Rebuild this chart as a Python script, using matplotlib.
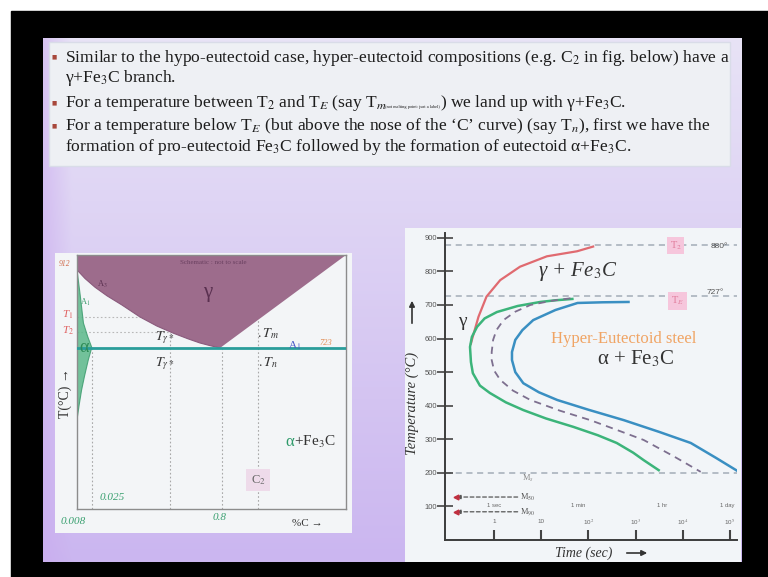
import numpy as np
import matplotlib
matplotlib.use("Agg")
import matplotlib.pyplot as plt
from matplotlib.patches import Rectangle
from matplotlib.colors import to_rgb
from matplotlib.ticker import NullLocator

W, H = 768, 577
plt.rcParams["font.family"] = ["Liberation Serif", "DejaVu Sans"]
plt.rcParams["mathtext.fontset"] = "stix"

# ---------------- bullet text ----------------
line1 = "Similar to the hypo-eutectoid case, hyper-eutectoid compositions (e.g. C$_2$ in fig. below) have a"
line2 = "γ+Fe$_3$C branch."
line3_a = "For a temperature between T$_2$ and T$_E$ (say T$_m$ "
line3_note = "(not melting point: just a label)"
line3_b = ") we land up with γ+Fe$_3$C."
line4 = "For a temperature below T$_E$ (but above the nose of the ‘C’ curve) (say T$_n$), first we have the"
line5 = "formation of pro-eutectoid Fe$_3$C followed by the formation of eutectoid α+Fe$_3$C."

# ---------------- Fe-Fe3C schematic (composition in schematic units 0-100) ----------------
a3_comp = [0, 3.0, 6.7, 11.2, 16.7, 23.4, 29.7, 35.7, 41.3, 45.7, 49.8, 53.2]
a3_temp = [912, 891, 870, 849, 827, 798, 776, 759, 745, 735, 728, 723]
acm_comp = [53.2, 100]
acm_temp = [723, 948]
ferrite_comp = [0, 1.2, 2.4, 4.0, 5.5, 4.2, 2.8, 1.7, 0.8, 0]
ferrite_temp = [912, 850, 783, 750, 724, 694, 655, 621, 585, 549]
eutectoid_temp = 723
guide_comp = [5.6, 34.6, 53.9, 67.3]
guide_top = [723, 760, 723, 791]
level_temp = [798, 762]
level_end = [23.4, 35.0]

# ---------------- TTT diagram ----------------
time_ticks = [1, 10, 1e2, 1e3, 1e4, 1e5]
time_tick_labels = ["1", "10", "10$^2$", "10$^3$", "10$^4$", "10$^5$"]
temp_ticks = [100, 200, 300, 400, 500, 600, 700, 800, 900]
time_units = [1, 60, 3600, 86400]
time_unit_labels = ["1 sec", "1 min", "1 hr", "1 day"]
T2_temp = 880
TE_temp = 727
Ms_temp = 200
M50_temp = 128
M90_temp = 84

pro_logt = [-0.49, -0.47, -0.33, -0.16, 0.13, 0.55, 1.12, 1.76, 2.1]
pro_temp = [585, 596, 665, 725, 774, 814, 845, 860, 874]
start_logt = [1.66, 1.3, 0.98, 0.5, 0.06, -0.2, -0.36, -0.47, -0.51, -0.49, -0.45,
              -0.3, -0.09, 0.25, 0.62, 1.1, 1.68, 2.2, 2.6, 2.95, 3.17, 3.49]
start_temp = [718, 714, 709, 697, 679, 660, 635, 605, 575, 530, 497,
              460, 438, 410, 387, 362, 337, 312, 289, 260, 238, 208]
half_logt = [1.62, 1.2, 0.77, 0.45, 0.2, 0.05, -0.02, -0.05, -0.05, 0.0, 0.13,
             0.4, 0.77, 1.4, 2.04, 2.6, 3.17, 3.8, 4.38]
half_temp = [720, 712, 700, 680, 655, 625, 596, 560, 536, 505, 477,
             445, 417, 385, 357, 328, 298, 250, 203]
finish_logt = [2.85, 2.3, 1.77, 1.3, 0.83, 0.6, 0.45, 0.38, 0.38, 0.45, 0.62,
               0.95, 1.34, 2.0, 2.75, 3.5, 4.17, 4.7, 5.19]
finish_temp = [709, 708, 706, 685, 655, 625, 596, 560, 536, 500, 467,
               440, 417, 388, 357, 322, 289, 245, 203]


def px_rect(x0, y0, x1, y1):
    return [x0 / W, 1 - y1 / H, (x1 - x0) / W, (y1 - y0) / H]


def pixel_axes(z):
    a = fig.add_axes([0, 0, 1, 1], zorder=z)
    a.set_xlim(0, W)
    a.set_ylim(H, 0)
    a.axis("off")
    a.patch.set_alpha(0)
    return a


fig = plt.figure(figsize=(W / 100, H / 100), dpi=100)
fig.patch.set_facecolor("white")

# ---------------- slide background ----------------
bg = pixel_axes(0)
bg.add_patch(Rectangle((11, 11), W - 11, H - 11, color="black", zorder=0))
h_s, w_s = 256, 256
v = np.linspace(0, 1, h_s)[:, None, None]
u = np.linspace(0, 1, w_s)[None, :, None]
top_c = np.array(to_rgb("#e8e3f6"))
bot_c = np.array(to_rgb("#cbb6f0"))
img = top_c * (1 - v) + bot_c * v
img = img * np.ones((1, w_s, 1))
edge = np.clip(1 - u / 0.04, 0, 1) * 0.5
img = img * (1 - edge) + np.array(to_rgb("#c9a8ee")) * edge
bg.imshow(img, extent=(43, 742, 562, 38), aspect="auto", zorder=1, interpolation="bilinear")
bg.set_xlim(0, W)
bg.set_ylim(H, 0)
bg.add_patch(Rectangle((49, 42), 681, 124, facecolor="#eef0f4", edgecolor="#d9dce8", lw=1, zorder=2))
bg.add_patch(Rectangle((55, 253), 297, 280, facecolor="#f3f5f7", edgecolor="none", zorder=2))
bg.add_patch(Rectangle((405, 228), 336, 334, facecolor="#f2f5f8", edgecolor="none", zorder=2))

# ---------------- Fe-Fe3C schematic ----------------
ax1 = fig.add_axes(px_rect(77, 255, 346, 509), zorder=1)
ax1.patch.set_alpha(0)
ax1.set_xlim(0, 100)
ax1.set_ylim(333, 948)
ax1.set_xticks([])
ax1.set_yticks([])
for s in ax1.spines.values():
    s.set_color("#8c8c8c")
    s.set_linewidth(1.0)
gamma_x = [0] + a3_comp + [acm_comp[1]]
gamma_y = [948] + a3_temp + [acm_temp[1]]
ax1.fill(gamma_x, gamma_y, color="#9d6c8c", lw=0, zorder=1)
ax1.plot(a3_comp, a3_temp, color="#8a5a7c", lw=0.8, zorder=2)
ax1.fill(ferrite_comp, ferrite_temp, color="#5bb88a", alpha=0.85, lw=0.8, ec="#3d9c6e", zorder=2)
for c, top in zip(guide_comp, guide_top):
    ax1.plot([c, c], [333, top], color="#a8a8a8", lw=0.8, ls=(0, (1.5, 2)), zorder=1)
for t, e in zip(level_temp, level_end):
    ax1.plot([0, e], [t, t], color="#b8b8b8", lw=0.8, ls=(0, (1.5, 2)), zorder=1)
ax1.axhline(eutectoid_temp, color="#2a9d9a", lw=2.0, zorder=3)

# ---------------- TTT diagram ----------------
ax2 = fig.add_axes(px_rect(445, 232.8, 737, 540), zorder=1)
ax2.patch.set_alpha(0)
ax2.set_xscale("log")
ax2.set_xlim(10 ** -1.04, 10 ** 5.15)
ax2.set_ylim(0, 915)
for side in ("top", "right"):
    ax2.spines[side].set_visible(False)
for side in ("left", "bottom"):
    ax2.spines[side].set_color("#3c3c3c")
    ax2.spines[side].set_linewidth(1.4)
ax2.set_yticks(temp_ticks)
ax2.set_yticklabels([str(t) for t in temp_ticks], fontsize=5.5, color="#555555",
                    family=["Liberation Sans", "DejaVu Sans"])
ax2.tick_params(axis="y", direction="inout", length=11, width=1.2, color="#444444", pad=0)
ax2.set_xticks(time_ticks)
ax2.set_xticklabels([])
ax2.xaxis.set_minor_locator(NullLocator())
ax2.tick_params(axis="x", direction="in", length=7, width=1.5, color="#444444")
for t, lab in zip(time_ticks, time_tick_labels):
    ax2.text(t, 54, lab, ha="center", va="center", fontsize=4.5, color="#666666",
             family=["Liberation Sans", "DejaVu Sans"])
for t, lab in zip(time_units, time_unit_labels):
    ax2.text(t, 104, lab, ha="center", va="center", fontsize=4.2, color="#666666",
             family=["Liberation Sans", "DejaVu Sans"])

dash_kw = dict(color="#a3adb8", lw=1.1, ls=(0, (4, 3)), zorder=1)
ax2.axhline(T2_temp, **dash_kw)
ax2.axhline(TE_temp, **dash_kw)
ax2.axhline(Ms_temp, **dash_kw)

ax2.plot(np.power(10.0, pro_logt), pro_temp, color="#e06a70", lw=1.6, zorder=3)
ax2.plot(np.power(10.0, start_logt), start_temp, color="#3cb47a", lw=1.8, zorder=3)
ax2.plot(np.power(10.0, half_logt), half_temp, color="#7d6f8f", lw=1.3, ls=(0, (4, 3)), zorder=3)
ax2.plot(np.power(10.0, finish_logt), finish_temp, color="#3a8fc2", lw=1.8, zorder=3)

for temp, lab in ((M50_temp, "M$_{50}$"), (M90_temp, "M$_{90}$")):
    ax2.annotate("", xy=(10 ** -0.8, temp), xytext=(10 ** 0.5, temp),
                 arrowprops=dict(arrowstyle="-|>", color="#555555", lw=0.9, ls=(0, (3, 2)),
                                 mutation_scale=6, shrinkA=0, shrinkB=0))
    ax2.plot([10 ** -0.8], [temp], marker="<", ms=3.5, color="#c03040", zorder=4)
    ax2.text(10 ** 0.55, temp, lab, ha="left", va="center", fontsize=6, color="#555555")
ax2.text(10 ** 0.6, 183, "M$_s$", ha="left", va="center", fontsize=6, color="#888888")

pink_box = dict(boxstyle="square,pad=0.25", fc="#f6c6dc", ec="none")
ax2.text(10 ** 3.85, T2_temp - 3, "T$_2$", ha="center", va="center", fontsize=7.5, color="#e07a9a", bbox=pink_box)
ax2.text(10 ** 4.6, T2_temp - 6, "880°", ha="left", va="center", fontsize=6, color="#555555",
         family=["Liberation Sans", "DejaVu Sans"])
ax2.text(10 ** 3.89, TE_temp - 15, "T$_E$", ha="center", va="center", fontsize=7.5, color="#e07a9a", bbox=pink_box)
ax2.text(10 ** 4.5, TE_temp + 10, "727°", ha="left", va="center", fontsize=6, color="#555555",
         family=["Liberation Sans", "DejaVu Sans"])

ax2.text(10 ** -0.68, 650, "γ", ha="center", va="center", fontsize=14, color="#333333")
ax2.text(10 ** 1.77, 800, "γ + Fe$_3$C", ha="center", va="center", fontsize=15, color="#333333",
         style="italic")
ax2.text(10 ** 2.75, 600, "Hyper-Eutectoid steel", ha="center", va="center", fontsize=12,
         color="#f0a464")
ax2.text(10 ** 3.0, 540, "α + Fe$_3$C", ha="center", va="center", fontsize=15, color="#333333")

# ---------------- overlay text (pixel coordinates) ----------------
ov = pixel_axes(5)
renderer = fig.canvas.get_renderer()


def put(x, y, s, **kw):
    t = ov.text(x, y, s, **kw)
    return x + t.get_window_extent(renderer).width


txt_kw = dict(color="#1c1c1c", va="baseline", ha="left")
probe = ov.text(0, 0, line1, fontsize=11, **txt_kw)
base_w = probe.get_window_extent(renderer).width
probe.remove()
fs = 11 * 662 / base_w

x_text = 65
bullet_y = [61, 107, 130]
for by in bullet_y:
    ov.text(54, by - 4, "■", fontsize=4, color="#a8483c", ha="center", va="center",
            family=["DejaVu Sans"])
put(x_text, 62, line1, fontsize=fs, **txt_kw)
put(x_text, 82, line2, fontsize=fs, **txt_kw)
xx = put(x_text, 107, line3_a, fontsize=fs, **txt_kw)
xx = put(xx - 3, 108, line3_note, fontsize=3.2, **txt_kw)
put(xx, 107, line3_b, fontsize=fs, **txt_kw)
put(x_text, 130, line4, fontsize=fs, **txt_kw)
put(x_text, 151, line5, fontsize=fs, **txt_kw)

# labels of the phase diagram
ov.text(65, 264, "912", fontsize=5.5, color="#d06a4a", style="italic", ha="center", va="center")
ov.text(213, 262, "Schematic : not to scale", fontsize=5, color="#6a4060", ha="center", va="center")
ov.text(102, 284, "A$_3$", fontsize=6, color="#5a3050", ha="center", va="center")
ov.text(85, 302, "A$_1$", fontsize=6, color="#3d9c6e", ha="center", va="center")
ov.text(68, 315, "T$_1$", fontsize=8, color="#e06060", style="italic", ha="center", va="center")
ov.text(68, 331, "T$_2$", fontsize=8, color="#e06060", style="italic", ha="center", va="center")
ov.text(84, 348, "α", fontsize=13, color="#2e8b57", ha="center", va="center")
ov.text(165, 338, "$T_{\\gamma*}$", fontsize=10, color="#333333", ha="center", va="center")
ov.text(165, 364, "$T_{\\gamma*}$", fontsize=10, color="#333333", ha="center", va="center")
ov.text(268, 334, "$.T_m$", fontsize=10, color="#333333", ha="center", va="center")
ov.text(268, 363, "$.T_n$", fontsize=10, color="#333333", ha="center", va="center")
ov.text(295, 346, "A$_1$", fontsize=8, color="#4a5ac8", ha="center", va="center")
ov.text(326, 343, "723", fontsize=6, color="#e08a50", style="italic", ha="center", va="center")
ov.text(208, 293, "γ", fontsize=15, color="#5a3050", ha="center", va="center")
ov.text(65, 393, "T(°C) →", fontsize=10, color="#333333", rotation=90, ha="center", va="center")
xa = put(285, 446, "α", fontsize=12, color="#2e9a6a", va="baseline", ha="left")
put(xa, 446, "+Fe$_3$C", fontsize=11, color="#333333", va="baseline", ha="left")
ov.text(258, 480, "C$_2$", fontsize=9, color="#666666", ha="center", va="center",
        bbox=dict(boxstyle="square,pad=0.35", fc="#eedbea", ec="none"))
ov.text(73, 521, "0.008", fontsize=8, color="#3aa070", style="italic", ha="center", va="center")
ov.text(112, 498, "0.025", fontsize=8, color="#3aa070", style="italic", ha="center", va="center")
ov.text(220, 517, "0.8", fontsize=8, color="#3aa070", style="italic", ha="center", va="center")
ov.text(307, 523, "%C →", fontsize=8, color="#333333", ha="center", va="center")

# axis titles of the TTT diagram
ov.text(412, 403, "Temperature (°C)", fontsize=10.5, color="#333333", rotation=90, style="italic",
        ha="center", va="center")
ov.annotate("", xy=(412, 298), xytext=(412, 326),
            arrowprops=dict(arrowstyle="-|>", color="#333333", lw=1.2, mutation_scale=8))
ov.text(584, 553, "Time (sec)", fontsize=10, color="#333333", style="italic", ha="center", va="center")
ov.annotate("", xy=(650, 553), xytext=(624, 553),
            arrowprops=dict(arrowstyle="-|>", color="#333333", lw=1.2, mutation_scale=8))

fig.savefig("out.png", dpi=100)
